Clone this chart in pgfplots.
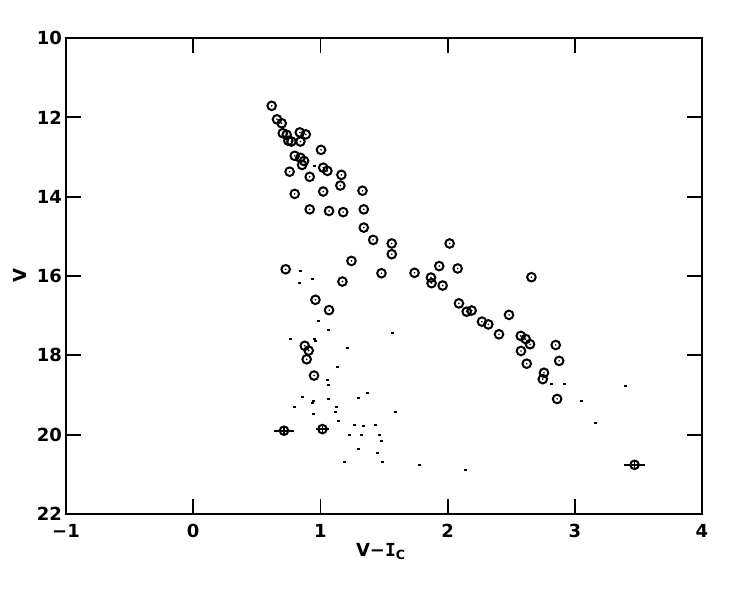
\documentclass[border=0pt]{standalone}
\usepackage{fontspec}
\setmainfont{DejaVu Sans}
\newfontfamily\monofont{DejaVu Sans Mono}
\usepackage{pgfplots}
\pgfplotsset{compat=1.18}
\pgfdeclareplotmark{odot}{%
  \pgfpathcircle{\pgfpointorigin}{\pgfplotmarksize}\pgfusepathqstroke
  \pgfpathcircle{\pgfpointorigin}{0.9bp}\pgfusepathqfill}
\pgfdeclareplotmark{sdot}{%
  \pgfpathrectangle{\pgfpoint{-1.5bp}{-1bp}}{\pgfpoint{3bp}{2bp}}\pgfusepathqfill}
\begin{document}
\begin{tikzpicture}
\useasboundingbox (0,0) rectangle (741bp,605bp);
\begin{axis}[
  at={(66bp,91bp)}, anchor=south west,
  scale only axis, width=636bp, height=476bp,
  xmin=-1, xmax=4, ymin=10, ymax=22, y dir=reverse,
  xtick={-1,0,1,2,3,4}, xticklabels={−1,0,1,2,3,4},
  ytick={10,12,14,16,18,20,22}, yticklabels={10,12,14,16,18,20,22},
  minor tick num=0,
  tick align=inside, major tick length=15bp,
  tick style={line width=1.8bp, black},
  axis line style={line width=1.8bp},
  ticklabel style={font=\fontsize{18bp}{20bp}\selectfont\bfseries, inner sep=0pt},
  xticklabel style={anchor=north, yshift=-10bp},
  yticklabel style={anchor=east, xshift=-4bp},
  xlabel={V−\hbox{\monofont I}\textsubscript{C}},
  ylabel={V},
  label style={font=\fontsize{18bp}{20bp}\selectfont\bfseries, inner sep=0pt},
  xlabel style={at={(axis description cs:0.495,-0.061)}, anchor=north},
  ylabel style={at={(axis description cs:-0.0723,0.5)}, anchor=center},
  clip=false,
]
% circled stars
\addplot[only marks, mark=odot, mark size=4.3bp, line width=2bp, black] coordinates {
(0.617,11.71) (0.659,12.05) (0.696,12.15) (0.704,12.40) (0.735,12.44)
(0.748,12.59) (0.772,12.61) (0.838,12.38) (0.885,12.43) (0.843,12.61)
(1.005,12.82) (0.798,12.97) (0.843,13.02) (0.872,13.10) (0.856,13.20)
(1.022,13.27) (1.055,13.35) (0.758,13.37) (0.916,13.50) (1.165,13.45)
(1.157,13.72) (1.022,13.87) (1.331,13.85) (0.798,13.93) (0.916,14.32)
(1.068,14.36) (1.179,14.39) (1.341,14.32) (1.341,14.78) (1.415,15.09)
(1.561,15.18) (1.561,15.45) (2.016,15.18) (1.244,15.62) (0.727,15.83)
(1.480,15.93) (1.740,15.92) (1.934,15.75) (1.869,16.04) (1.874,16.18)
(1.961,16.24) (1.173,16.14) (2.079,15.81) (2.659,16.03) (0.961,16.60)
(1.068,16.86) (2.089,16.69) (2.150,16.90) (2.189,16.87) (2.270,17.15)
(2.320,17.22) (2.483,16.98) (2.404,17.47) (2.575,17.51) (2.614,17.59)
(2.648,17.72) (2.577,17.89) (2.850,17.74) (2.877,18.14) (2.622,18.21)
(2.758,18.44) (2.748,18.60) (2.861,19.10) (0.877,17.76) (0.908,17.88)
(0.892,18.10) (0.950,18.51)
};
% circled stars with error bars
\addplot[only marks, mark=odot, mark size=4.3bp, line width=2bp, black,
  error bars/.cd, x dir=both, x explicit, y dir=both, y explicit,
  error mark=none, error bar style={line width=1.8bp, black}] coordinates {
(0.714,19.90) +- (0.076,0.13)
(1.016,19.86) +- (0.050,0.12)
(3.470,20.76) +- (0.083,0.12)
};
% small dots
\addplot[only marks, mark=sdot, black] coordinates {
(0.955,13.23) (0.845,15.87) (0.832,16.17) (0.939,16.07) (0.987,17.13)
(1.063,17.35) (0.764,17.59) (0.955,17.59) (0.961,17.65) (1.215,17.81)
(1.564,17.43) (1.134,18.29) (1.055,18.62) (1.066,18.76) (0.856,19.04)
(1.066,19.09) (1.297,19.07) (1.373,18.94) (0.947,19.14) (0.934,19.19)
(0.798,19.29) (1.129,19.29) (1.121,19.43) (0.942,19.47) (1.593,19.43)
(1.139,19.65) (1.270,19.75) (1.341,19.77) (1.436,19.75) (1.231,20.00)
(1.325,20.00) (1.462,20.00) (1.483,20.15) (1.302,20.35) (1.451,20.45)
(1.192,20.68) (1.491,20.68) (1.782,20.76) (2.139,20.88) (2.819,18.71)
(2.919,18.71) (3.050,19.14) (3.160,19.70) (3.402,18.77)
};
\end{axis}
\end{tikzpicture}
\end{document}
